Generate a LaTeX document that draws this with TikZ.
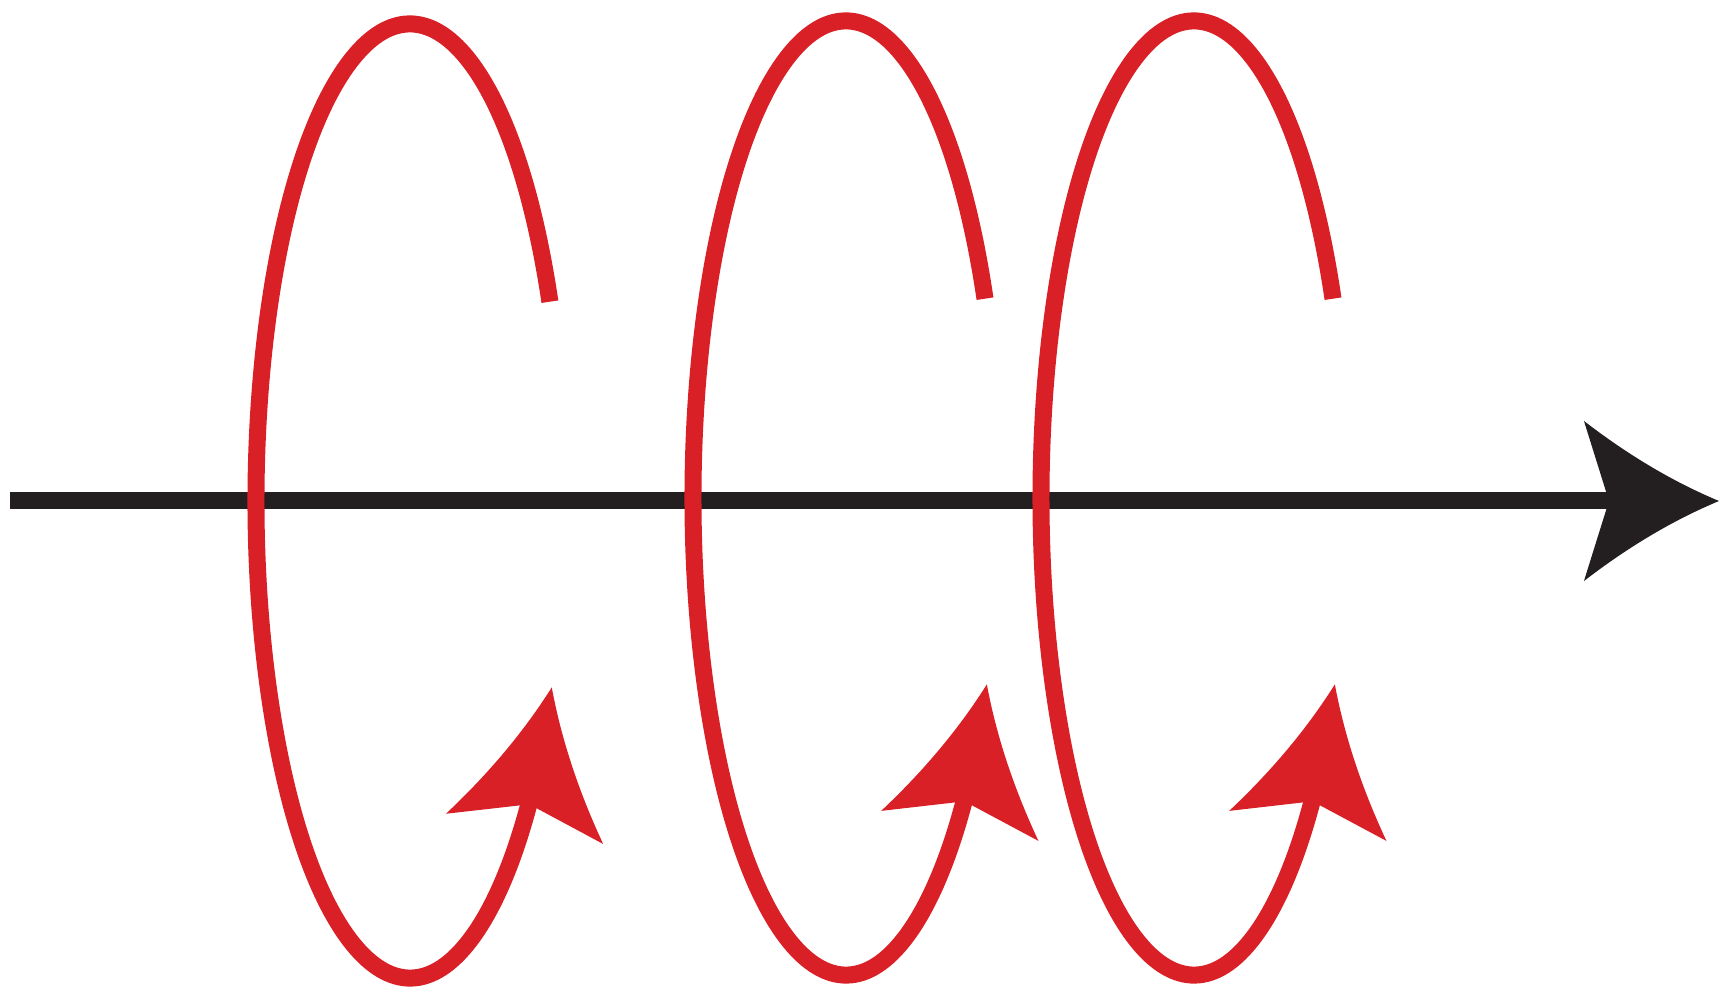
\documentclass[tikz,border=0pt]{standalone}
\usetikzlibrary{arrows.meta,bending}
\definecolor{loopred}{RGB}{218,32,39}
\definecolor{axisblack}{RGB}{35,31,32}
% arrow head with hollow (swept) sides
\newdimen\sweptnotch
\pgfdeclarearrow{
  name = Swept,
  defaults = {length=12pt, width=12pt, inset=3pt},
  parameters = {\the\pgfarrowlength,\the\pgfarrowwidth,\the\pgfarrowinset},
  setup code = {
    \sweptnotch=\pgfarrowinset
    \advance\sweptnotch by -\pgfarrowlength
    \pgfarrowssettipend{0pt}
    \pgfarrowssetbackend{-\pgfarrowlength}
    \pgfarrowssetlineend{\sweptnotch}
    \pgfarrowssetvisualbackend{\sweptnotch}
    \pgfarrowssavethe\pgfarrowlength
    \pgfarrowssavethe\pgfarrowwidth
    \pgfarrowssavethe\pgfarrowinset
  },
  drawing code = {
    \pgfpathmoveto{\pgfpointorigin}
    \pgfpathcurveto{\pgfpoint{-0.333*\pgfarrowlength}{0.117*\pgfarrowwidth}}
      {\pgfpoint{-0.667*\pgfarrowlength}{0.283*\pgfarrowwidth}}
      {\pgfpoint{-\pgfarrowlength}{0.5*\pgfarrowwidth}}
    \pgfpathlineto{\pgfpoint{\pgfarrowinset-\pgfarrowlength}{0pt}}
    \pgfpathlineto{\pgfpoint{-\pgfarrowlength}{-0.5*\pgfarrowwidth}}
    \pgfpathcurveto{\pgfpoint{-0.667*\pgfarrowlength}{-0.283*\pgfarrowwidth}}
      {\pgfpoint{-0.333*\pgfarrowlength}{-0.117*\pgfarrowwidth}}
      {\pgfpointorigin}
    \pgfpathclose
    \pgfusepathqfill
  }
}
\tikzset{
  axis line/.style={axisblack, line width=0.17cm,
    -{Swept[length=1.35cm, width=1.6cm, inset=0.25cm]}},
  loop line/.style={loopred, line width=0.17cm,
    -{Swept[length=1.44cm, width=1.6cm, inset=0.25cm, flex]}},
}
\begin{document}
\begin{tikzpicture}[x=0.01cm, y=0.01cm]
  \useasboundingbox (0,0) rectangle (1719,988);
  \coordinate (axis start) at (10,487);
  \coordinate (axis end) at (1719,487);
  \draw[axis line] (axis start) -- (axis end);
  \foreach \cx\cy\rx in {410/487/154, 846/490/153, 1194/490/153}{
    \draw[loop line] (\cx,\cy) ++(24.7:\rx\space and 477)
      arc[start angle=24.7, end angle=337, x radius=\rx, y radius=477];
  }
\end{tikzpicture}
\end{document}
